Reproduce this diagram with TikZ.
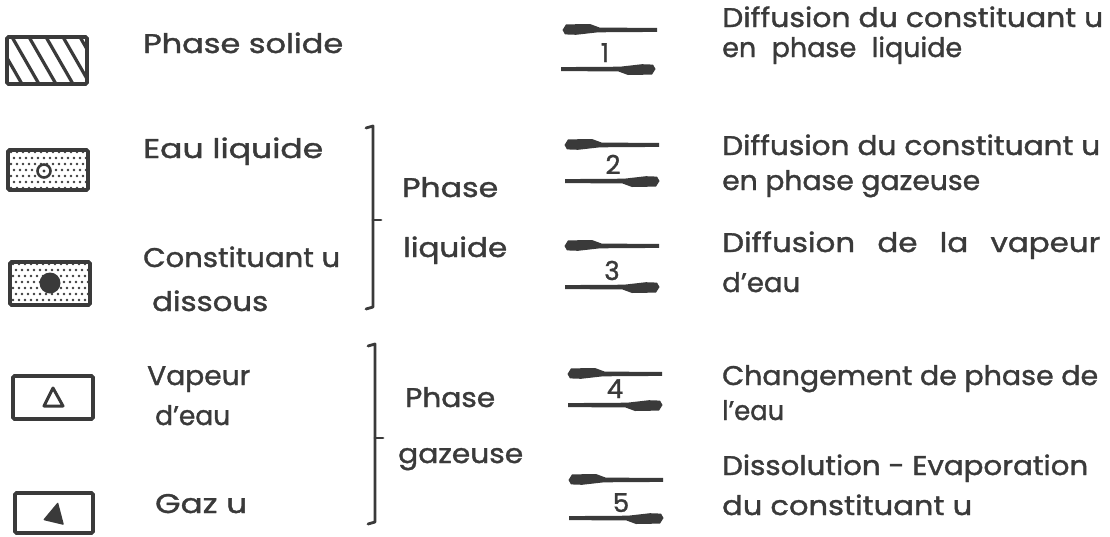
\documentclass[tikz,border=0pt]{standalone}
\usepackage{fontspec}
\usepackage{graphicx}
\setmainfont{Poppins}
\newfontfamily\lett{Poppins}[FakeBold=1.3]
\definecolor{ink}{HTML}{3A3A3A}
\newcommand\fitw[2]{\resizebox{#1pt}{\height}{#2}}
\newcommand\spreadw[2]{\makebox[#1pt][s]{#2}}
\begin{document}
\begin{tikzpicture}[x=1pt,y=-1pt,
  lbl/.style={anchor=base west, inner sep=0pt, text=ink, font=\lett\fontsize{27}{31}\selectfont},
  num/.style={anchor=base, inner sep=0pt, text=ink, font=\lett\fontsize{26}{30}\selectfont},
  legbox/.style={draw=ink, line width=3.8pt, rounded corners=1.5pt},
  brk/.style={draw=ink, line width=2.8pt, line join=round, line cap=round},
  harp/.pic={\fill[ink] (-47,-1.9) -- (12,-2.3) -- (34,-4.8) -- (45,-4.4) -- (47.5,0) -- (44,5.6) -- (20,6) -- (10,2.3) -- (-47,2.2) -- cycle;}]
\useasboundingbox (0,0) rectangle (1110,536);

% ---- legend boxes ----
% 1: hatched (solid phase)
\begin{scope}
  \clip (7,37) rectangle (87,84);
  \foreach \k in {-2,...,5}{
    \draw[ink, line width=3.2pt] ({12+\k*17},37) -- ({12+\k*17+27},84);
  }
\end{scope}
\draw[legbox] (7,37) rectangle (87,84);

% 2: dotted, open circle (liquid water)
\begin{scope}
  \clip (8,150) rectangle (88,190);
  \foreach \j in {0,...,6}{
    \foreach \i in {0,...,13}{
      \pgfmathsetmacro\dx{3+\i*6+mod(\j,2)*3}
      \fill[ink] ({8+\dx},{152+\j*6}) circle (1.3);
    }}
\end{scope}
\draw[legbox] (8,150) rectangle (88,190);
\filldraw[fill=white, draw=ink, line width=2.6pt] (44,171) circle (6.5);
\fill[ink] (44,171) circle (1.7);

% 3: dotted, filled circle (dissolved constituent)
\begin{scope}
  \clip (10,262) rectangle (90,305);
  \foreach \j in {0,...,7}{
    \foreach \i in {0,...,13}{
      \pgfmathsetmacro\dx{3+\i*6+mod(\j,2)*3}
      \fill[ink] ({10+\dx},{264+\j*6}) circle (1.3);
    }}
\end{scope}
\draw[legbox] (10,262) rectangle (90,305);
\fill[ink] (50,283) circle (10.5);

% 4: open triangle (water vapour)
\draw[legbox] (13,376) rectangle (93,419);
\draw[ink, line width=3pt, line join=round] (53,388) -- (63,406) -- (44,406) -- cycle;

% 5: filled triangle (gas u)
\draw[legbox] (15,493) rectangle (93,533);
\fill[ink, rounded corners=1pt] (58,502) -- (64,525) -- (43,520) -- cycle;

% ---- left labels ----
\node[lbl] (ls) at (143,53) {\fitw{200}{Phase solide}};
\node[lbl] (le) at (143,158) {\fitw{180}{Eau liquide}};
\node[lbl] (lc) at (143,267) {\fitw{197}{Constituant u}};
\node[lbl] (ld) at (152,311) {\fitw{116}{dissous}};
\node[lbl] (lv) at (147,385) {\fitw{103}{Vapeur}};
\node[lbl] (lw) at (155,425) {\fitw{75}{d’eau}};
\node[lbl] (lg) at (155,513) {\fitw{92}{Gaz u}};

% ---- brackets ----
\draw[brk] (366,128) -- (373,126) -- (373,307) -- (366,309);
\draw[brk] (373,220) -- (381,220);
\draw[brk] (368,346) -- (375,344) -- (375,522) -- (368,524);
\draw[brk] (375,438) -- (383,438);

\node[lbl] (pl1) at (402,197) {\fitw{96}{Phase}};
\node[lbl] (pl2) at (403,257) {\fitw{104}{liquide}};
\node[lbl] (pg1) at (405,407) {\fitw{90}{Phase}};
\node[lbl] (pg2) at (398,463) {\fitw{125}{gazeuse}};

% ---- equilibrium arrows ----
\pic[rotate=180] at (610,30) {harp};
\pic at (608,69) {harp};
\node[num] (n1) at (605,62) {1};

\pic[rotate=180] at (612,145) {harp};
\pic at (612,181) {harp};
\node[num] (n2) at (613,174) {2};

\pic[rotate=180] at (612,246) {harp};
\pic at (612,287) {harp};
\node[num] (n3) at (612,280) {3};

\pic[rotate=180] at (615,374) {harp};
\pic at (615,405) {harp};
\node[num] (n4) at (615,398) {4};

\pic[rotate=180] at (616,480) {harp};
\pic at (616,518) {harp};
\node[num] (n5) at (621,512) {5};

% ---- right descriptions ----
\node[lbl] (r1a) at (722,27) {\fitw{381}{Diffusion du constituant u}};
\node[lbl] (r1b) at (722,57) {\spreadw{240}{en phase liquide}};
\node[lbl] (r2a) at (722,155) {\fitw{378}{Diffusion du constituant u}};
\node[lbl] (r2b) at (722,190) {\fitw{258}{en phase gazeuse}};
\node[lbl] (r3a) at (722,252) {\fitw{378}{\spreadw{330}{Diffusion de la vapeur}}};
\node[lbl] (r3b) at (722,292) {\fitw{78}{d’eau}};
\node[lbl] (r4a) at (722,385) {\fitw{376}{Changement de phase de}};
\node[lbl] (r4b) at (722,420) {\fitw{62}{l’eau}};
\node[lbl] (r5a) at (722,475) {\fitw{366}{Dissolution - Evaporation}};
\node[lbl] (r5b) at (722,515) {\fitw{250}{du constituant u}};
\end{tikzpicture}
\end{document}
